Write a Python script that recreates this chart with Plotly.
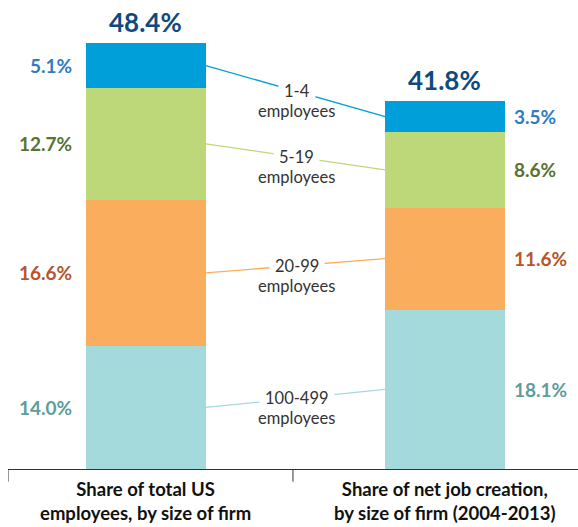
import plotly.graph_objects as go

# Firm-size groups (bottom to top of each stacked bar)
size_groups = ["100-499", "20-99", "5-19", "1-4"]
group_labels = ["100-499<br>employees", "20-99<br>employees", "5-19<br>employees", "1-4<br>employees"]

# Shares (%) for each bar, same order as size_groups
employment_share = [14.0, 16.6, 12.7, 5.1]
job_creation_share = [18.1, 11.6, 8.6, 3.5]

bar_totals = [48.4, 41.8]
category_labels = [
    "<b>Share of total US<br>employees, by size of firm</b>",
    "<b>Share of net job creation,<br>by size of firm (2004-2013)</b>",
]

fill_colors = ["#A4DADB", "#FAAE5D", "#BDD879", "#009FDA"]
text_colors = ["#5F9C9C", "#B5552B", "#5A7233", "#2F7DBF"]
total_color = "#0E4A7E"

FONT = "Lato"
BAR_W = 0.40
X_POS = [0, 1]
X_RANGE = [-0.4615, 1.445]
Y_RANGE = [0, 53.3]

fig = go.Figure()

series = [employment_share, job_creation_share]

# Stacked segments
for gi in range(len(size_groups)):
    fig.add_trace(go.Bar(
        x=X_POS,
        y=[series[0][gi], series[1][gi]],
        width=BAR_W,
        marker=dict(color=fill_colors[gi], line=dict(width=0)),
        hoverinfo="skip",
        showlegend=False,
    ))


def midpoints(vals):
    out, acc = [], 0.0
    for v in vals:
        out.append(acc + v / 2)
        acc += v
    return out


mid_left = midpoints(employment_share)
mid_right = midpoints(job_creation_share)

# Connector lines linking matching segments of the two bars
for gi in range(len(size_groups)):
    x0 = X_POS[0] + BAR_W / 2
    x1 = X_POS[1] - BAR_W / 2
    fig.add_trace(go.Scatter(
        x=[x0, x1],
        y=[mid_left[gi], mid_right[gi]],
        mode="lines",
        line=dict(color=fill_colors[gi], width=1.3),
        hoverinfo="skip",
        showlegend=False,
    ))
    xm = (x0 + x1) / 2 + 0.005
    ym = (mid_left[gi] + mid_right[gi]) / 2
    first, second = group_labels[gi].split("<br>")
    fig.add_annotation(
        x=xm, y=ym, text=first, showarrow=False,
        font=dict(family=FONT, size=16.5, color="#333333"),
        bgcolor="white", borderpad=5, xanchor="center", yanchor="middle",
    )
    fig.add_annotation(
        x=xm, y=ym, text=second, showarrow=False,
        font=dict(family=FONT, size=16.5, color="#333333"),
        xanchor="center", yanchor="middle", yshift=-20,
    )

# Segment value labels
for gi in range(len(size_groups)):
    fig.add_annotation(
        x=X_POS[0] - BAR_W / 2, y=mid_left[gi],
        text=f"<b>{employment_share[gi]:.1f}%</b>", showarrow=False,
        font=dict(family=FONT, size=19, color=text_colors[gi]),
        xanchor="right", yanchor="middle", xshift=-12,
    )
    fig.add_annotation(
        x=X_POS[1] + BAR_W / 2, y=mid_right[gi],
        text=f"<b>{job_creation_share[gi]:.1f}%</b>", showarrow=False,
        font=dict(family=FONT, size=19, color=text_colors[gi]),
        xanchor="left", yanchor="middle", xshift=7,
    )

# Bar totals
for xi, tot in zip(X_POS, bar_totals):
    fig.add_annotation(
        x=xi, y=tot, text=f"<b>{tot:.1f}%</b>", showarrow=False,
        font=dict(family=FONT, size=26, color=total_color),
        xanchor="center", yanchor="bottom", yshift=3,
    )

# Category labels under the axis
for xi, lab in zip(X_POS, category_labels):
    fig.add_annotation(
        x=xi, y=0, yref="y", text=lab, showarrow=False,
        font=dict(family=FONT, size=18.5, color="#111111"),
        xanchor="center", yanchor="top", yshift=-7,
    )

# Divider ticks on the baseline
for xd in [X_RANGE[0], 0.4916]:
    fig.add_shape(
        type="line", xref="x", yref="paper",
        x0=xd, x1=xd, y0=0, y1=-0.027,
        line=dict(color="#333333", width=1),
    )

fig.update_layout(
    width=578, height=527,
    margin=dict(l=8, r=0, t=0, b=58),
    paper_bgcolor="white", plot_bgcolor="white",
    barmode="stack", bargap=0,
    xaxis=dict(range=X_RANGE, showgrid=False, zeroline=False, showticklabels=False,
               showline=True, linecolor="#333333", linewidth=1, ticks=""),
    yaxis=dict(range=Y_RANGE, showgrid=False, zeroline=False, showticklabels=False,
               showline=False, ticks=""),
)

fig.write_html("out.html")
